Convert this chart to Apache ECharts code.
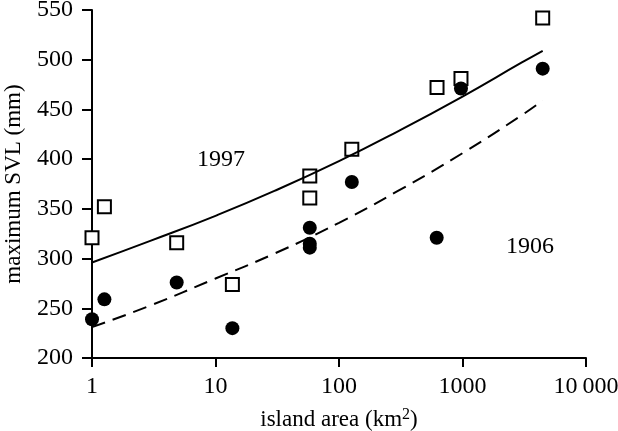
<!DOCTYPE html>
<html>
<head>
<meta charset="utf-8">
<script src="https://cdn.jsdelivr.net/npm/echarts@6/dist/echarts.min.js"></script>
<style>
  html, body { margin: 0; padding: 0; background: #fff; }
  #chart { width: 618px; height: 431px; }
</style>
</head>
<body>
<div id="chart"></div>
<script>
// island area (km2) and maximum SVL (mm)
const areas1997 = [1, 1.26, 4.85, 13.7, 58, 58, 127, 622, 972, 4460]
const svl1997 = [321, 352, 316, 274, 383, 361, 410, 472, 481, 542]
const areas1906 = [1, 1.26, 4.85, 13.7, 58, 58, 58, 127, 618, 972, 4460]
const svl1906 = [239, 259, 276, 230, 331, 315, 311, 377, 321, 471, 491]

// fitted curves, read at a few areas
const curveAreas = [1, 3, 10, 30, 100, 300, 1000, 3000, 4460]
const fit1997 = [296, 318, 343, 368, 398, 428, 463, 497, 509]
const fit1906 = [231, 253, 280, 305, 336, 368, 406, 444, 459]

// curve labels: [area, svl, text]
const curveLabels = [[11.1, 399, '1997'], [3520, 312, '1906']]

const yTicks = { min: 200, max: 550, step: 50 }
const xTicks = { min: 1, max: 10000 }

const font = 'Liberation Serif'
const pairs = (xs, ys) => xs.map((x, i) => [x, ys[i]])

const chart = echarts.init(document.getElementById('chart'))
const option = {
  animation: false,
  backgroundColor: '#fff',
  textStyle: { fontFamily: font, color: '#000' },
  grid: { left: 92, right: 32, top: 10, bottom: 73, containLabel: false, outerBoundsMode: 'none' },
  xAxis: {
    type: 'log',
    logBase: 10,
    min: xTicks.min,
    max: xTicks.max,
    name: '{n|island area (km}{s|2}{n|)}',
    nameLocation: 'middle',
    nameGap: 49,
    nameTextStyle: {
      rich: {
        n: { fontFamily: font, fontSize: 23, color: '#000' },
        s: { fontFamily: font, fontSize: 16, color: '#000', verticalAlign: 'top', padding: [0, 0, 10, 0] }
      }
    },
    axisLine: { lineStyle: { color: '#000', width: 2 } },
    axisTick: { length: 9, lineStyle: { color: '#000', width: 2 } },
    axisLabel: {
      margin: 17,
      fontFamily: font,
      fontSize: 24,
      color: '#000',
      formatter: v => (v >= 10000 ? '10\u2009000' : String(v))
    },
    splitLine: { show: false },
    minorTick: { show: false }
  },
  yAxis: {
    type: 'value',
    min: yTicks.min,
    max: yTicks.max,
    interval: yTicks.step,
    name: 'maximum SVL (mm)',
    nameLocation: 'middle',
    nameGap: 67,
    nameTextStyle: { fontFamily: font, fontSize: 23, color: '#000' },
    axisLine: { show: true, lineStyle: { color: '#000', width: 2 } },
    axisTick: { show: true, length: 10, lineStyle: { color: '#000', width: 2 } },
    axisLabel: { margin: 19, fontFamily: font, fontSize: 24, color: '#000' },
    splitLine: { show: false }
  },
  series: [
    {
      name: '1997',
      type: 'scatter',
      clip: false,
      symbol: 'rect',
      symbolSize: 13,
      itemStyle: { color: '#fff', borderColor: '#000', borderWidth: 2, opacity: 1 },
      data: pairs(areas1997, svl1997)
    },
    {
      name: '1906',
      type: 'scatter',
      clip: false,
      symbol: 'circle',
      symbolSize: 14,
      itemStyle: { color: '#000', opacity: 1 },
      data: pairs(areas1906, svl1906)
    },
    {
      name: 'fit 1997',
      type: 'line',
      smooth: true,
      showSymbol: false,
      symbol: 'none',
      lineStyle: { color: '#000', width: 2 },
      data: pairs(curveAreas, fit1997)
    },
    {
      name: 'fit 1906',
      type: 'line',
      smooth: true,
      showSymbol: false,
      symbol: 'none',
      lineStyle: { color: '#000', width: 2, type: [14, 8] },
      data: pairs(curveAreas, fit1906)
    },
    {
      name: 'labels',
      type: 'scatter',
      symbolSize: 0,
      silent: true,
      itemStyle: { opacity: 1 },
      label: {
        show: true,
        position: 'inside',
        formatter: p => p.data[2],
        fontFamily: font,
        fontSize: 24,
        color: '#000'
      },
      data: curveLabels
    }
  ]
}
chart.setOption(option)
</script>
</body>
</html>
